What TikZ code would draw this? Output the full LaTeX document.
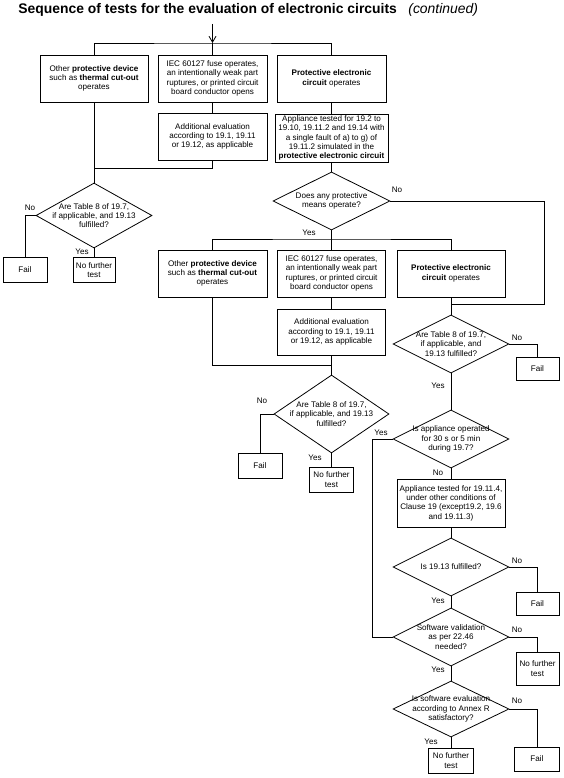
\documentclass[tikz,border=0pt]{standalone}
\usepackage{fontspec}
\setmainfont{Liberation Sans}
\usetikzlibrary{shapes.geometric,arrows.meta}
\newcommand{\myfont}{\fontsize{8.1}{9.3}\selectfont}
\begin{document}
\begin{tikzpicture}[x=1pt,y=-1pt,
  every path/.style={line width=0.8pt},
  box/.style={draw, rectangle, inner sep=0pt, align=center, font=\myfont},
  dia/.style={draw, diamond, inner sep=0pt},
  dtext/.style={align=center, font=\myfont, inner sep=0pt},
  lbl/.style={font=\myfont, inner sep=0pt},
  lbox/.style={box, minimum width=109pt, minimum height=47pt},
  sbox/.style={box, minimum width=44pt, minimum height=25pt}]
\useasboundingbox (0,0) rectangle (563,778);
% title
\node[anchor=west, inner sep=0pt, font=\fontsize{13.9}{15}\selectfont\bfseries] (title) at (18,10) {Sequence of tests for the evaluation of electronic circuits};
\node[anchor=west, inner sep=0pt, font=\fontsize{13.9}{15}\selectfont\itshape] (cont) at (408,10) {(continued)};

% top row
\node[lbox, minimum width=108pt] (a1) at (94,78.5) {Other \textbf{protective device}\\such as \textbf{thermal cut-out}\\operates};
\node[lbox] (b1) at (212.5,78.5) {IEC 60127 fuse operates,\\an intentionally weak part\\ruptures, or printed circuit\\board conductor opens};
\node[lbox] (c1) at (331.5,78.5) {\textbf{Protective electronic}\\\textbf{circuit} operates};
\node[lbox] (b2) at (212.5,136.5) {Additional evaluation\\according to 19.1, 19.11\\or 19.12, as applicable};
\node[box, minimum width=113pt, minimum height=48pt] (c2) at (331.5,138) {Appliance tested for 19.2 to\\19.10, 19.11.2 and 19.14 with\\a single fault of a) to g) of\\19.11.2 simulated in the\\\textbf{protective electronic circuit}};

\coordinate (top) at (212.5,24);
\coordinate (split) at (212.5,43);
\draw[-{Straight Barb[length=6pt,width=7pt]}] (top) -- (split);
\draw (split) -- (b1.north);
\draw (a1.north) |- (split) -| (c1.north);
\draw (b1.south) -- (b2.north);
\draw (c1.south) -- (c2.north);

% left decision
\node[dia, minimum width=116pt, minimum height=65pt] (d1) at (94,215.5) {};
\node[dtext] (d1t) at (d1.center) {Are Table 8 of 19.7,\\if applicable, and 19.13\\fulfilled?};
\coordinate (m1) at (94,168);
\draw (a1.south) -- (d1.north);
\draw (b2.south) |- (m1);
\node[sbox] (f1) at (25,269.5) {Fail};
\node[sbox, minimum width=42pt] (n1) at (94,270) {No further\\test};
\draw (d1.west) -| (f1.north);
\draw (d1.south) -- (n1.north);
\node[lbl] (d1no) at (30,208) {No};
\node[lbl] (d1yes) at (82,252) {Yes};

% second decision
\node[dia, minimum width=117pt, minimum height=58pt] (d2) at (331.5,201) {};
\node[dtext] (d2t) at (d2.center) {Does any protective\\means operate?};
\draw (c2.south) -- (d2.north);
\node[lbl] (d2no) at (397,190) {No};
\node[lbl] (d2yes) at (309,233) {Yes};

\node[lbox] (a3) at (212.5,273.5) {Other \textbf{protective device}\\such as \textbf{thermal cut-out}\\operates};
\node[lbox, minimum width=108pt] (b3) at (331.5,273.5) {IEC 60127 fuse operates,\\an intentionally weak part\\ruptures, or printed circuit\\board conductor opens};
\node[lbox, minimum width=108pt] (c3) at (451,273.5) {\textbf{Protective electronic}\\\textbf{circuit} operates};
\node[lbox, minimum width=108pt, minimum height=46pt] (b4) at (331.5,332) {Additional evaluation\\according to 19.1, 19.11\\or 19.12, as applicable};

\coordinate (y2) at (331.5,239);
\draw (d2.south) -- (y2);
\draw (a3.north) |- (y2) -| (c3.north);
\draw (y2) -- (b3.north);
\draw (b3.south) -- (b4.north);

\coordinate (r2) at (544,304);
\coordinate (j2) at (451,304);
\draw (d2.east) -| (r2) -- (j2);

% middle decision
\node[dia, minimum width=115pt, minimum height=78pt] (d3) at (331.5,414) {};
\node[dtext] (d3t) at (d3.center) {Are Table 8 of 19.7,\\if applicable, and 19.13\\fulfilled?};
\coordinate (m3) at (331.5,365);
\draw (b4.south) -- (d3.north);
\draw (a3.south) |- (m3);
\node[sbox] (f2) at (260,466) {Fail};
\node[sbox] (n2) at (331.5,479.5) {No further\\test};
\draw (d3.west) -| (f2.north);
\draw (d3.south) -- (n2.north);
\node[lbl] (d3no) at (262,401) {No};
\node[lbl] (d3yes) at (315,458) {Yes};

% right column
\node[dia, minimum width=116pt, minimum height=58pt] (d4) at (451,344) {};
\node[dtext] (d4t) at (d4.center) {Are Table 8 of 19.7,\\if applicable, and\\19.13 fulfilled?};
\draw (c3.south) -- (d4.north);
\node[sbox, minimum width=43pt, minimum height=23pt] (f3) at (537.5,368.5) {Fail};
\draw (d4.east) -| (f3.north);
\node[lbl] (d4no) at (517,338) {No};
\node[lbl] (d4yes) at (438,386) {Yes};

\node[dia, minimum width=116pt, minimum height=58pt] (d5) at (451,439) {};
\node[dtext] (d5t) at (d5.center) {Is appliance operated\\for 30 s or 5 min\\during 19.7?};
\draw (d4.south) -- (d5.north);
\node[lbl] (d5yes) at (381,433) {Yes};
\node[lbl] (d5no) at (438,473) {No};

\node[box, minimum width=108pt, minimum height=48pt] (e) at (451,503) {Appliance tested for 19.11.4,\\under other conditions of\\Clause 19 (except19.2, 19.6\\and 19.11.3)};
\draw (d5.south) -- (e.north);

\node[dia, minimum width=116pt, minimum height=58pt] (d7) at (451,567) {};
\node[dtext] (d7t) at (d7.center) {Is 19.13 fulfilled?};
\draw (e.south) -- (d7.north);
\node[sbox, minimum width=43pt, minimum height=23pt] (f4) at (537.5,603.5) {Fail};
\draw (d7.east) -| (f4.north);
\node[lbl] (d7no) at (517,561) {No};
\node[lbl] (d7yes) at (438,601) {Yes};

\node[dia, minimum width=116pt, minimum height=58pt] (d8) at (451,637) {};
\node[dtext] (d8t) at (d8.center) {Software validation\\as per 22.46\\needed?};
\draw (d7.south) -- (d8.north);
\draw (d5.west) -- ++(-20,0) |- (d8.west);
\node[sbox, minimum width=43pt, minimum height=33pt] (n3) at (537.5,668.5) {No further\\test};
\draw (d8.east) -| (n3.north);
\node[lbl] (d8no) at (517,630) {No};
\node[lbl] (d8yes) at (438,670) {Yes};

\node[dia, minimum width=116pt, minimum height=56pt] (d9) at (451,709) {};
\node[dtext] (d9t) at (d9.center) {Is software evaluation\\according to Annex R\\satisfactory?};
\draw (d8.south) -- (d9.north);
\node[sbox, minimum width=45pt, minimum height=24pt] (f5) at (537,759) {Fail};
\draw (d9.east) -| (f5.north);
\node[sbox, minimum width=45pt] (n4) at (451,760.5) {No further\\test};
\draw (d9.south) -- (n4.north);
\node[lbl] (d9no) at (517,701) {No};
\node[lbl] (d9yes) at (431,742) {Yes};
\end{tikzpicture}
\end{document}
